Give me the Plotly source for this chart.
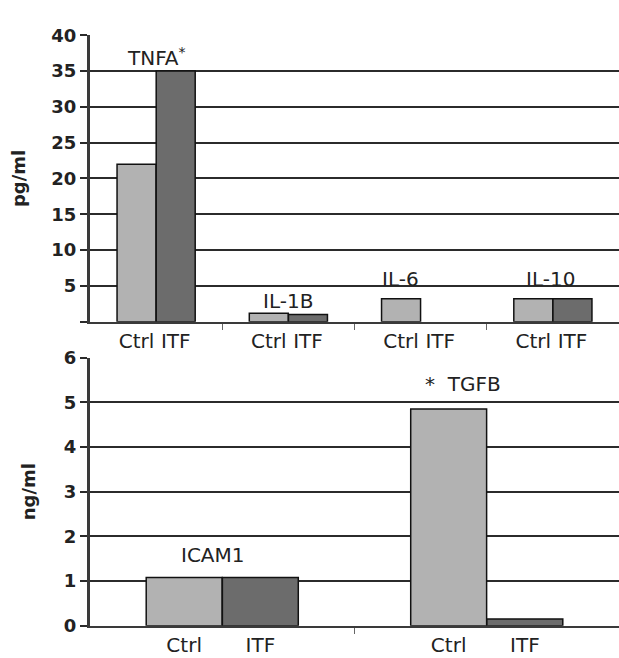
import plotly.graph_objects as go

# Cytokine levels (pg/ml); None = not detected
cyto_names = ["TNFA", "IL-1B", "IL-6", "IL-10"]
cyto_ctrl = [22.0, 1.2, 3.2, 3.2]
cyto_itf = [35.0, 1.0, None, 3.2]

# Adhesion / growth factor levels (ng/ml)
factor_names = ["ICAM1", "TGFB"]
factor_ctrl = [1.08, 4.85]
factor_itf = [1.08, 0.15]

group_labels = ["Ctrl", "ITF"]
top_ticks = [5, 10, 15, 20, 25, 30, 35, 40]
bottom_ticks = [0, 1, 2, 3, 4, 5, 6]

CTRL_COLOR = "#b2b2b2"
ITF_COLOR = "#6c6c6c"
FONT = "DejaVu Sans"
TXT = "#222222"

fig = go.Figure()


def add_pairs(ctrl, itf, xref, yref, half_off, width):
    n = len(ctrl)
    xc = [i + 0.5 - half_off for i in range(n)]
    xi = [i + 0.5 + half_off for i in range(n)]
    fig.add_trace(go.Bar(x=xc, y=ctrl, width=width, marker=dict(color=CTRL_COLOR, line=dict(color="#111", width=1.5)),
                         xaxis=xref, yaxis=yref, showlegend=False))
    fig.add_trace(go.Bar(x=xi, y=itf, width=width, marker=dict(color=ITF_COLOR, line=dict(color="#111", width=1.5)),
                         xaxis=xref, yaxis=yref, showlegend=False))
    tv, tt = [], []
    for a, b in zip(xc, xi):
        tv += [a, b]
        tt += group_labels
    return tv, tt


tv1, tt1 = add_pairs(cyto_ctrl, cyto_itf, "x", "y", 0.148, 0.295)
tv2, tt2 = add_pairs(factor_ctrl, factor_itf, "x2", "y2", 0.144, 0.287)

x_left = 90 / 619
tick_style = dict(ticks="outside", ticklen=7, tickcolor="#2b2b2b", tickwidth=2)
num_font = dict(family=FONT, size=18, color=TXT, weight="bold")
title_font = dict(family=FONT, size=18, color=TXT, weight="bold")
grid = dict(showgrid=True, gridcolor="#2b2b2b", gridwidth=2, zeroline=False,
            showline=True, linecolor="#3a3a3a", linewidth=3,
            tickfont=num_font, **tick_style)

xcommon = dict(showgrid=False, zeroline=False, showline=True, linecolor="#3a3a3a", linewidth=2,
               ticks="", tickfont=dict(family=FONT, size=20, color=TXT), domain=[x_left, 1.0])
sep_tick = dict(ticks="outside", ticklen=6, tickcolor="#666", tickwidth=1)

fig.update_layout(
    width=619, height=658, margin=dict(l=0, r=0, t=0, b=0),
    paper_bgcolor="white", plot_bgcolor="white",
    barmode="overlay",
    xaxis=dict(xcommon, range=[0, 4], tickvals=tv1, ticktext=tt1, anchor="y",
               minor=dict(sep_tick, tickvals=[1, 2, 3])),
    yaxis=dict(grid, range=[0, 40], domain=[0.5122, 0.962], anchor="x",
               tickvals=top_ticks,
               minor=dict(tick_style, tickvals=[0], showgrid=False),
               title=dict(text="pg/ml", font=title_font, standoff=22)),
    xaxis2=dict(xcommon, range=[0, 2], tickvals=tv2, ticktext=tt2, anchor="y2",
                minor=dict(sep_tick, tickvals=[1])),
    yaxis2=dict(grid, range=[0, 6], domain=[0.035, 0.456], anchor="x2",
                tickvals=bottom_ticks,
                title=dict(text="ng/ml", font=title_font, standoff=24)),
)

ann_font = dict(family=FONT, size=20, color=TXT)
notes = [
    ("TNFA<sup>*</sup>", "x", "y", 0.5, 37.0),
    ("IL-1B", "x", "y", 1.5, 2.9),
    ("IL-6", "x", "y", 2.35, 6.0),
    ("IL-10", "x", "y", 3.48, 6.0),
    ("ICAM1", "x2", "y2", 0.464, 1.58),
    ("*  TGFB", "x2", "y2", 1.41, 5.41),
]
for text, xr, yr, xv, yv in notes:
    fig.add_annotation(text=text, xref=xr, yref=yr, x=xv, y=yv, showarrow=False,
                       font=ann_font, xanchor="center", yanchor="middle")

fig.write_html("out.html")
